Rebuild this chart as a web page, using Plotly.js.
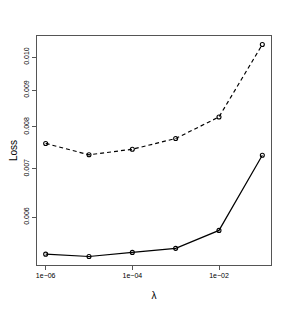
<!DOCTYPE html>
<html><head><meta charset="utf-8">
<script src="https://cdn.plot.ly/plotly-3.0.1.min.js"></script>
<style>html,body{margin:0;padding:0;background:#fff}#c{width:291px;height:312px}</style>
</head><body><div id="c"></div>
<script>
const lambda = [1e-6, 1e-5, 1e-4, 1e-3, 1e-2, 1e-1];
const lossDashed = [0.00759, 0.00732, 0.00745, 0.00771, 0.00826, 0.01041];
const lossSolid = [0.00533, 0.00529, 0.00536, 0.00543, 0.00575, 0.00731];
const xTickVals = [1e-6, 1e-4, 1e-2];
const xTickText = ["1e\u221206", "1e\u221204", "1e\u221202"];
const yTickVals = [0.006, 0.007, 0.008, 0.009, 0.010];
const yTickText = ["0.006", "0.007", "0.008", "0.009", "0.010"];

const mk = {symbol: 'circle-open', size: 4, color: '#000', line: {width: 1.1, color: '#000'}};
const traces = [
  {x: lambda, y: lossDashed, mode: 'lines+markers', line: {color: '#000', width: 1.2, dash: '4px,3px'}, marker: mk, showlegend: false, hoverinfo: 'skip'},
  {x: lambda, y: lossSolid, mode: 'lines+markers', line: {color: '#000', width: 1.2}, marker: mk, showlegend: false, hoverinfo: 'skip'}
];
const axisCommon = {
  showgrid: false, zeroline: false, showline: true, mirror: true,
  linecolor: '#555', linewidth: 1, ticks: 'outside', ticklen: 4, tickcolor: '#555', tickwidth: 1,
  tickfont: {family: 'Liberation Sans, Arial, sans-serif', size: 7, color: '#000'}
};
const layout = {
  width: 291, height: 312,
  margin: {l: 37, r: 20, t: 36, b: 46.5},
  paper_bgcolor: '#fff', plot_bgcolor: '#fff',
  xaxis: Object.assign({}, axisCommon, {
    type: 'log', range: [-6.2, -0.8], tickmode: 'array', tickvals: xTickVals, ticktext: xTickText,
    title: {text: 'λ', font: {family: 'Liberation Sans, Arial, sans-serif', size: 10, color: '#000'}, standoff: 13}
  }),
  yaxis: Object.assign({}, axisCommon, {
    type: 'log', range: [-2.2883, -1.9708], tickmode: 'array', tickvals: yTickVals, ticktext: yTickText,
    tickangle: -90,
    title: {text: 'Loss', font: {family: 'Liberation Sans, Arial, sans-serif', size: 10, color: '#000'}, standoff: 3}
  })
};
Plotly.newPlot('c', traces, layout, {staticPlot: true, displayModeBar: false});
</script></body></html>
